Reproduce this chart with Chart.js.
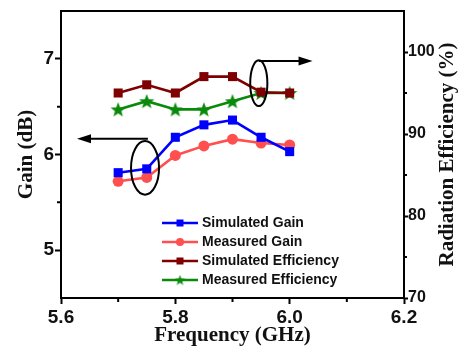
<!DOCTYPE html>
<html>
<head>
<meta charset="utf-8">
<script src="https://cdn.jsdelivr.net/npm/chart.js@4.4.1/dist/chart.umd.min.js"></script>
<style>
  html, body { margin: 0; padding: 0; background: #fff; }
  #wrap { width: 460px; height: 348px; }
</style>
</head>
<body>
<div id="wrap"><canvas id="chart" width="460" height="348"></canvas></div>
<script>
const FREQ = [5.70, 5.75, 5.80, 5.85, 5.90, 5.95, 6.00];
const SIM_GAIN = [5.81, 5.85, 6.18, 6.31, 6.36, 6.18, 6.03];
const MEAS_GAIN = [5.72, 5.76, 5.99, 6.09, 6.16, 6.12, 6.10];
const SIM_EFF = [95.0, 96.0, 95.0, 97.0, 97.0, 95.1, 95.0];
const MEAS_EFF = [93.0, 94.0, 93.0, 93.0, 94.0, 95.0, 95.0];

const X_TICKS = [5.6, 5.8, 6.0, 6.2];
const X_MINOR = [5.7, 5.9, 6.1];
const GAIN_TICKS = [5, 6, 7];
const GAIN_MINOR = [5.5, 6.5];
const EFF_TICKS = [70, 80, 90, 100];
const EFF_MINOR = [75, 85, 95];

// ellipse [x, y, rx, ry] and arrow [x0, y0, x1] in data units
const GAIN_MARK = { ellipse: [5.747, 5.86, 0.0245, 0.28], arrow: [5.752, 6.165, 5.628] };
const EFF_MARK = { ellipse: [5.946, 96.2, 0.015, 2.8], arrow: [5.946, 98.9, 6.04] };

const EFF_TITLE = "Radiation Efficiency (%)";

const TICK_FONT = { family: "'Liberation Sans', Arial, sans-serif", size: 19, weight: "bold", lineHeight: 1 };
const TITLE_FONT = { family: "'Liberation Serif', 'Times New Roman', serif", size: 21, weight: "bold", lineHeight: 1.2 };

function starImage(size, color) {
  const c = document.createElement("canvas");
  c.width = size; c.height = size;
  const g = c.getContext("2d");
  const cx = size / 2, cy = size / 2 + size * 0.04, ro = size / 2, ri = ro * 0.42;
  g.beginPath();
  for (let i = 0; i < 10; i++) {
    const r = i % 2 ? ri : ro;
    const a = -Math.PI / 2 + i * Math.PI / 5;
    g.lineTo(cx + r * Math.cos(a), cy + r * Math.sin(a));
  }
  g.closePath();
  g.fillStyle = color;
  g.fill();
  return c;
}

const GREEN = "#0a8a0a";
const starBig = starImage(16, GREEN);
const starSmall = starImage(11, GREEN);

const points = (ys) => FREQ.map((x, i) => ({ x, y: ys[i] }));

const datasets = [
  { label: "Simulated Gain", data: points(SIM_GAIN), yAxisID: "y", borderColor: "#0000ff", backgroundColor: "#0000ff", pointStyle: "rect", pointRadius: 6.4, legendSymbol: "rect" },
  { label: "Measured Gain", data: points(MEAS_GAIN), yAxisID: "y", borderColor: "#ff4f4f", backgroundColor: "#ff4f4f", pointStyle: "circle", pointRadius: 5.5, legendSymbol: "circle" },
  { label: "Simulated Efficiency", data: points(SIM_EFF), yAxisID: "y2", borderColor: "#7f0000", backgroundColor: "#7f0000", pointStyle: "rect", pointRadius: 6.4, legendSymbol: "rect" },
  { label: "Measured Efficiency", data: points(MEAS_EFF), yAxisID: "y2", borderColor: GREEN, backgroundColor: GREEN, pointStyle: starBig, pointRadius: 8, legendSymbol: "star" },
];
datasets.forEach((d) => Object.assign(d, { borderWidth: 2.6, tension: 0, pointBorderWidth: 0, pointHoverRadius: d.pointRadius }));

const setTicks = (values) => (scale) => { scale.ticks = values.map((value) => ({ value })); };

function axisGrid(len) {
  return { display: true, drawOnChartArea: false, drawTicks: true, tickLength: len, tickWidth: 2, tickColor: "#000" };
}

const frame = {
  id: "frame",
  afterDraw(chart) {
    const { ctx, chartArea: a, scales } = chart;
    ctx.save();
    ctx.strokeStyle = "#000";
    ctx.lineWidth = 2;
    ctx.beginPath();
    ctx.moveTo(a.left - 1, a.top);
    ctx.lineTo(a.right + 1, a.top);
    // minor ticks
    X_MINOR.forEach((v) => { const x = scales.x.getPixelForValue(v); ctx.moveTo(x, a.bottom); ctx.lineTo(x, a.bottom + 4); });
    GAIN_MINOR.forEach((v) => { const y = scales.y.getPixelForValue(v); ctx.moveTo(a.left, y); ctx.lineTo(a.left - 4, y); });
    EFF_MINOR.forEach((v) => { const y = scales.y2.getPixelForValue(v); ctx.moveTo(a.right, y); ctx.lineTo(a.right + 3, y); });
    ctx.stroke();

    // ellipses and arrows
    const mark = (m, ys) => {
      const [ex, ey, rx, ry] = m.ellipse;
      const cx = scales.x.getPixelForValue(ex), cy = ys.getPixelForValue(ey);
      const prx = Math.abs(scales.x.getPixelForValue(ex + rx) - cx);
      const pry = Math.abs(ys.getPixelForValue(ey + ry) - cy);
      ctx.lineWidth = 2;
      ctx.beginPath();
      ctx.ellipse(cx, cy, prx, pry, 0, 0, Math.PI * 2);
      ctx.stroke();
      const [x0, y0, x1] = m.arrow;
      const px0 = scales.x.getPixelForValue(x0), py = ys.getPixelForValue(y0), px1 = scales.x.getPixelForValue(x1);
      const dir = Math.sign(px1 - px0);
      ctx.beginPath();
      ctx.moveTo(px0, py);
      ctx.lineTo(px1 - dir * 10, py);
      ctx.stroke();
      ctx.beginPath();
      ctx.moveTo(px1, py);
      ctx.lineTo(px1 - dir * 14, py - 4.5);
      ctx.lineTo(px1 - dir * 14, py + 4.5);
      ctx.closePath();
      ctx.fillStyle = "#000";
      ctx.fill();
    };
    mark(GAIN_MARK, scales.y);
    mark(EFF_MARK, scales.y2);

    // right axis title, reading bottom to top
    ctx.save();
    ctx.translate(448, (a.top + a.bottom) / 2);
    ctx.rotate(-Math.PI / 2);
    ctx.font = `bold ${TITLE_FONT.size}px ${TITLE_FONT.family}`;
    ctx.fillStyle = "#111";
    ctx.textAlign = "center";
    ctx.textBaseline = "middle";
    ctx.fillText(EFF_TITLE, 0, 0);
    ctx.restore();

    // legend
    ctx.font = "bold 14px 'Liberation Sans', Arial, sans-serif";
    ctx.textBaseline = "middle";
    ctx.textAlign = "left";
    chart.data.datasets.forEach((d, i) => {
      const y = 223 + i * 19;
      ctx.strokeStyle = d.borderColor;
      ctx.lineWidth = 2.6;
      ctx.beginPath();
      ctx.moveTo(162, y);
      ctx.lineTo(198, y);
      ctx.stroke();
      ctx.fillStyle = d.backgroundColor;
      if (d.legendSymbol === "rect") ctx.fillRect(176.5, y - 3.5, 7, 7);
      else if (d.legendSymbol === "circle") { ctx.beginPath(); ctx.arc(180, y, 4, 0, Math.PI * 2); ctx.fill(); }
      else ctx.drawImage(starSmall, 180 - 5.5, y - 5.5);
      ctx.fillStyle = "#111";
      ctx.fillText(d.label, 202, y + 0.5);
    });
    ctx.restore();
  },
};

new Chart(document.getElementById("chart"), {
  type: "line",
  data: { datasets },
  plugins: [frame],
  options: {
    responsive: false,
    animation: false,
    events: [],
    layout: { padding: { top: 11, left: 0, right: 0, bottom: 0 } },
    plugins: { legend: { display: false }, tooltip: { enabled: false } },
    scales: {
      x: {
        type: "linear", min: 5.6, max: 6.2,
        afterBuildTicks: setTicks(X_TICKS),
        afterFit: (s) => { s.height = 50; s.paddingLeft = 0; s.paddingRight = 0; },
        ticks: { font: TICK_FONT, color: "#111", padding: 4, maxRotation: 0, callback: (v) => v.toFixed(1) },
        grid: axisGrid(6),
        border: { display: true, width: 2, color: "#000" },
        title: { display: true, text: "Frequency (GHz)", font: TITLE_FONT, color: "#111", padding: { top: 0, bottom: 0 } },
      },
      y: {
        position: "left", min: 4.5, max: 7.5,
        afterBuildTicks: setTicks(GAIN_TICKS),
        afterFit: (s) => { s.width = 61; s.paddingTop = 0; s.paddingBottom = 0; },
        ticks: { font: TICK_FONT, color: "#111", padding: 1, callback: (v) => String(v) },
        grid: axisGrid(6),
        border: { display: true, width: 2, color: "#000" },
        title: { display: true, text: "Gain (dB)", font: TITLE_FONT, color: "#111", padding: { top: 14, bottom: 0 } },
      },
      y2: {
        position: "right", min: 70, max: 105,
        afterBuildTicks: setTicks(EFF_TICKS),
        afterFit: (s) => { s.width = 56; s.paddingTop = 0; s.paddingBottom = 0; },
        ticks: { font: { ...TICK_FONT, size: 16 }, color: "#111", padding: 0, callback: (v) => String(v) },
        grid: axisGrid(4),
        border: { display: true, width: 2, color: "#000" },
        title: { display: false },
      },
    },
  },
});
</script>
</body>
</html>
